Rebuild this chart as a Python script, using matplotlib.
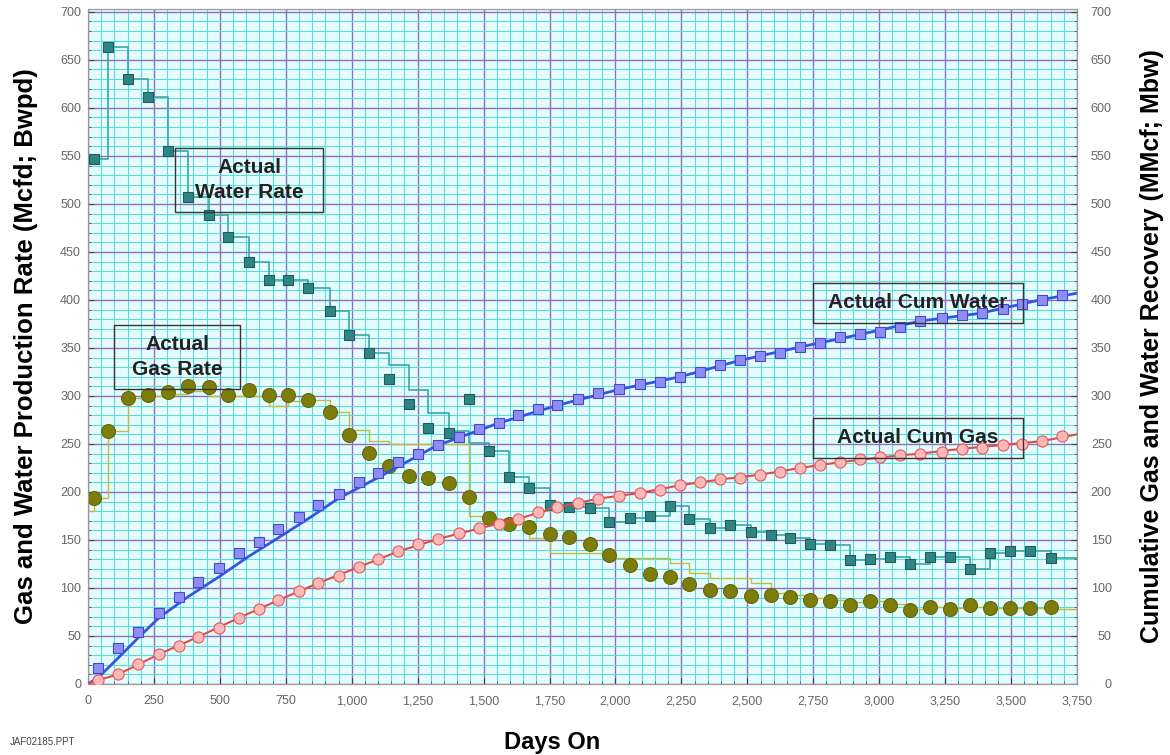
import numpy as np
import matplotlib
matplotlib.use("Agg")
import matplotlib.pyplot as plt
from matplotlib.patches import Rectangle
from matplotlib.ticker import MultipleLocator, FuncFormatter

plt.rcParams['font.family'] = ['Liberation Sans', 'DejaVu Sans']

# ---------------- data ----------------
rate_days = [24, 76, 152, 228, 305, 379, 457, 531, 609, 685,
             760, 836, 916, 990, 1064, 1140, 1216, 1291, 1369, 1443,
             1519, 1598, 1674, 1750, 1824, 1902, 1977, 2055, 2131, 2205,
             2279, 2357, 2434, 2514, 2590, 2662, 2738, 2814, 2890, 2965,
             3041, 3117, 3193, 3269, 3345, 3420, 3496, 3572, 3652]

water_rate = [547, 663, 630, 611, 555, 507, 488, 466, 440, 421,
              421, 412, 388, 363, 345, 318, 292, 267, 261, 297,
              243, 216, 204, 186, 184, 183, 169, 173, 175, 185,
              172, 162, 166, 158, 155, 152, 146, 145, 129, 130,
              132, 125, 132, 132, 120, 136, 139, 139, 131]

water_line_days = rate_days + [3750]
water_line = [547, 663, 630, 611, 555, 507, 488, 466, 440, 421,
              421, 412, 388, 363, 345, 332, 306, 282, 264, 251,
              243, 216, 204, 186, 184, 183, 169, 173, 175, 185,
              172, 162, 166, 158, 155, 152, 146, 145, 129, 130,
              132, 125, 132, 132, 120, 136, 139, 139, 131, 131]

gas_rate = [194, 264, 298, 301, 304, 310, 309, 301, 306, 301,
            301, 296, 283, 259, 241, 227, 217, 215, 209, 195,
            173, 167, 163, 156, 153, 146, 134, 124, 115, 111,
            104, 98, 97, 92, 93, 91, 88, 86, 82, 86,
            82, 77, 80, 78, 82, 79, 79, 79, 80]

gas_line_days = [0] + rate_days + [3750]
gas_line = [180,
            194, 264, 298, 300, 302, 305, 300, 300, 300, 290,
            295, 296, 283, 265, 253, 250, 250, 250, 250, 175,
            172, 170, 152, 136, 136, 136, 131, 131, 131, 126,
            116, 110, 110, 105, 95, 93, 90, 88, 85, 86,
            83, 78, 80, 79, 80, 79, 79, 79, 78,
            74]

cum_days = [38, 114, 190, 269, 345, 417, 497, 573, 648, 720,
            800, 872, 952, 1028, 1100, 1176, 1251, 1327, 1407, 1483,
            1559, 1631, 1706, 1778, 1858, 1934, 2014, 2093, 2169, 2245,
            2320, 2396, 2472, 2548, 2624, 2700, 2776, 2852, 2927, 3003,
            3079, 3155, 3238, 3314, 3390, 3470, 3542, 3618, 3693]

cum_water = [17, 38, 54, 74, 91, 106, 121, 136, 148, 161,
             174, 186, 198, 210, 220, 231, 240, 249, 257, 266,
             272, 280, 286, 291, 297, 303, 307, 312, 315, 320,
             325, 332, 337, 342, 345, 351, 355, 361, 364, 367,
             372, 378, 381, 384, 386, 391, 396, 400, 405]

cum_gas = [4, 10, 21, 31, 40, 49, 58, 69, 78, 87,
           97, 105, 113, 122, 130, 138, 146, 151, 157, 162,
           167, 172, 179, 184, 188, 193, 196, 199, 202, 207,
           210, 213, 215, 218, 221, 225, 228, 231, 234, 236,
           238, 240, 242, 245, 246, 249, 250, 253, 258]

cum_water_line_days = [0, 40, 114, 190, 269, 380, 493, 610, 720, 840, 948, 1100,
                       1320, 1560, 1790, 2017, 2245, 2472, 2700, 2927, 3155,
                       3382, 3610, 3750]
cum_water_line = [0, 7, 27, 48, 69, 91, 111, 133, 152, 173, 193, 215,
                  248, 272, 291, 307, 320, 337, 351, 364, 378,
                  386, 400, 407]

cum_gas_line_days = [0, 38, 114, 269, 417, 573, 720, 872, 1028, 1176, 1327, 1483,
                     1631, 1778, 1934, 2093, 2245, 2396, 2548, 2700, 2852, 3003,
                     3155, 3314, 3470, 3618, 3750]
cum_gas_line = [0, 4, 10, 31, 49, 69, 87, 105, 122, 138, 151, 162,
                172, 184, 193, 199, 207, 213, 218, 225, 231, 236,
                240, 245, 249, 253, 260]

x_ticks = list(range(0, 3751, 250))
y_ticks = list(range(0, 701, 50))

labels = {
    "water_rate": "Actual\nWater Rate",
    "gas_rate": "Actual\nGas Rate",
    "cum_water": "Actual Cum Water",
    "cum_gas": "Actual Cum Gas",
}

# ---------------- figure ----------------
fig = plt.figure(figsize=(11.7, 7.55), dpi=100)
ax = fig.add_axes([88 / 1170, 1 - 684 / 755, 989 / 1170, 675 / 755])
ax.set_facecolor('#e6fcfc')
ax.set_xlim(0, 3750)
ax.set_ylim(0, 703)

ax.xaxis.set_minor_locator(MultipleLocator(50))
ax.yaxis.set_minor_locator(MultipleLocator(10))
ax.set_xticks(x_ticks)
ax.set_yticks(y_ticks)
ax.xaxis.set_major_formatter(FuncFormatter(lambda v, p: f"{int(v):,}"))

ax.grid(which='minor', color='#5adcdc', lw=0.8, zorder=0)
ax.grid(which='major', color='#8a72c2', lw=1.0, zorder=0)
ax.set_axisbelow(True)

tick_kw = dict(direction='in', colors='#444444', labelcolor='#666666', labelsize=9)
ax.tick_params(axis='both', which='major', length=4, **tick_kw)
ax.tick_params(axis='both', which='minor', length=2, direction='in', colors='#555555')
ax.tick_params(axis='x', pad=8)
ax.tick_params(axis='y', pad=5)
for s in ax.spines.values():
    s.set_color('#999999')

# rate series
ax.plot(water_line_days, water_line, drawstyle='steps-post', color='#3aa6a6', lw=1.2, zorder=3)
ax.plot(rate_days, water_rate, ls='none', marker='s', ms=7.5, mfc='#2f8585',
        mec='#1e5c5c', mew=0.8, zorder=4)
ax.plot(gas_line_days, gas_line, drawstyle='steps-post', color='#bdbd45', lw=1.0, zorder=3)
ax.plot(rate_days, gas_rate, ls='none', marker='o', ms=10, mfc='#7d7d0c',
        mec='#66660a', mew=0.8, zorder=4)

ax.set_xlabel('Days On', fontsize=17, fontweight='bold', va='center')
ax.xaxis.set_label_coords(0.469, -0.086)
ax.set_ylabel('Gas and Water Production Rate (Mcfd; Bwpd)', fontsize=18.5,
              fontweight='bold', labelpad=16)

# cumulative on right axis
ax2 = ax.twinx()
ax2.set_ylim(0, 703)
ax2.set_yticks(y_ticks)
ax2.yaxis.set_minor_locator(MultipleLocator(10))
ax2.tick_params(axis='y', which='major', length=4, direction='in', colors='#444444',
                labelcolor='#666666', labelsize=9, pad=25)
ax2.tick_params(axis='y', which='minor', length=2, direction='in', colors='#555555')
for t in ax2.get_yticklabels():
    t.set_horizontalalignment('right')
for s in ax2.spines.values():
    s.set_color('#999999')

ax2.plot(cum_water_line_days, cum_water_line, color='#3355e6', lw=2.0, zorder=3)
ax2.plot(cum_days, cum_water, ls='none', marker='s', ms=6.5, mfc='#8e8ef2',
         mec='#4646d6', mew=0.8, zorder=4)
ax2.plot(cum_gas_line_days, cum_gas_line, color='#e34a4a', lw=1.5, zorder=3)
ax2.plot(cum_days, cum_gas, ls='none', marker='o', ms=8, mfc='#ffb8b8',
         mec='#e35a5a', mew=0.8, zorder=4)
ax2.set_ylabel('Cumulative Gas and Water Recovery (MMcf; Mbw)', fontsize=18,
               fontweight='bold', labelpad=20, rotation=90)

# annotation boxes (axes-fraction positions)
boxes = [
    (labels["water_rate"], 0.088, 0.699, 0.150, 0.095),
    (labels["gas_rate"], 0.026, 0.437, 0.128, 0.095),
    (labels["cum_water"], 0.733, 0.535, 0.212, 0.059),
    (labels["cum_gas"], 0.733, 0.335, 0.212, 0.059),
]
for txt, x0, y0, w, h in boxes:
    ax2.add_patch(Rectangle((x0, y0), w, h, transform=ax2.transAxes, fill=False,
                            ec='#333333', lw=1.0, zorder=5))
    ax2.text(x0 + w / 2, y0 + h / 2, txt, transform=ax2.transAxes, ha='center',
             va='center', fontsize=15, fontweight='bold', color='#222222',
             linespacing=1.4, zorder=6)

fig.text(10 / 1170, 1 - 742 / 755, 'JAF02185.PPT', fontsize=7, color='#444444',
         ha='left', va='center')

fig.savefig('out.png', dpi=100)
